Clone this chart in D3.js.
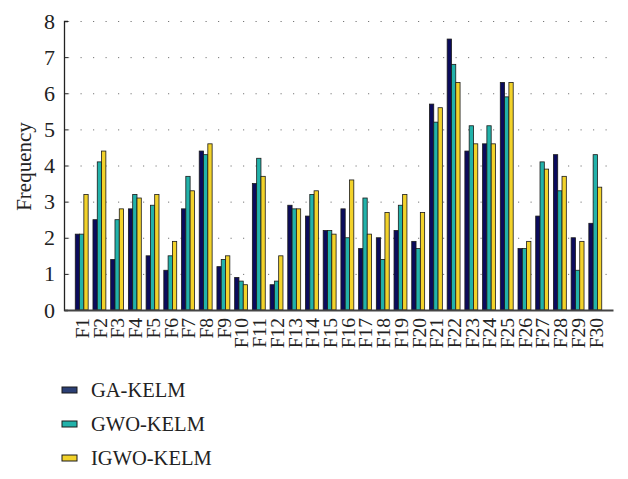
<!DOCTYPE html>
<html>
<head>
<meta charset="utf-8">
<script src="https://cdn.jsdelivr.net/npm/d3@7"></script>
<style>
  body { margin: 0; background: #fff; }
  text { font-family: "Liberation Serif", "DejaVu Serif", serif; fill: #222; }
</style>
</head>
<body>
<svg width="628" height="479"></svg>
<script>
// categories and series values
var categories = d3.range(1, 31).map(function (i) { return "F" + i; });
var seriesNames = ["GA-KELM", "GWO-KELM", "IGWO-KELM"];
var gaKelm = [2.1, 2.5, 1.4, 2.8, 1.5, 1.1, 2.8, 4.4, 1.2, 0.9, 3.5, 0.7, 2.9, 2.6, 2.2,
              2.8, 1.7, 2.0, 2.2, 1.9, 5.7, 7.5, 4.4, 4.6, 6.3, 1.7, 2.6, 4.3, 2.0, 2.4];
var gwoKelm = [2.1, 4.1, 2.5, 3.2, 2.9, 1.5, 3.7, 4.3, 1.4, 0.8, 4.2, 0.8, 2.8, 3.2, 2.2,
               2.0, 3.1, 1.4, 2.9, 1.7, 5.2, 6.8, 5.1, 5.1, 5.9, 1.7, 4.1, 3.3, 1.1, 4.3];
var igwoKelm = [3.2, 4.4, 2.8, 3.1, 3.2, 1.9, 3.3, 4.6, 1.5, 0.7, 3.7, 1.5, 2.8, 3.3, 2.1,
                3.6, 2.1, 2.7, 3.2, 2.7, 5.6, 6.3, 4.6, 4.6, 6.3, 1.9, 3.9, 3.7, 1.9, 3.4];
var yTicks = [0, 1, 2, 3, 4, 5, 6, 7, 8];

var series = [gaKelm, gwoKelm, igwoKelm];
var colors = ["#0b0b5c", "#22b2aa", "#f2d22a"];

var svg = d3.select("svg");
var mLeft = 64, mRight = 613, mTop = 21, mBottom = 310;

var x = d3.scaleLinear().domain([0, categories.length + 1]).range([mLeft, mRight]);
var y = d3.scaleLinear().domain([0, 8]).range([mBottom, mTop]);
var barW = 4.3;

// dotted grid
svg.append("g")
    .selectAll("line")
    .data(yTicks.slice(1))
    .enter()
    .append("line")
    .attr("x1", mLeft + 4)
    .attr("x2", mRight)
    .attr("y1", function (d) { return y(d) + 0.5; })
    .attr("y2", function (d) { return y(d) + 0.5; })
    .attr("stroke", "#777")
    .attr("stroke-width", 1)
    .attr("stroke-dasharray", "1.2,11.3");

// bars
series.forEach(function (vals, s) {
    svg.append("g")
        .selectAll("rect")
        .data(vals)
        .enter()
        .append("rect")
        .attr("x", function (d, i) { return x(i + 1) + (s - 1.5) * barW; })
        .attr("y", function (d) { return y(d); })
        .attr("width", barW)
        .attr("height", function (d) { return mBottom - y(d); })
        .attr("fill", colors[s])
        .attr("stroke", "#1a1a1a")
        .attr("stroke-width", 0.8);
});

// y axis, ticks pointing in
var yAxis = d3.axisLeft(y).tickValues(yTicks).tickSize(-4).tickPadding(9);
var gy = svg.append("g")
    .attr("transform", "translate(" + mLeft + ",0)")
    .call(yAxis);
gy.select(".domain").attr("stroke", "#222").attr("stroke-width", 1.3);
gy.selectAll(".tick line").attr("stroke", "#222");
gy.selectAll("text")
    .style("font-size", "22px")
    .style("font-family", "'Liberation Serif', serif")
    .attr("fill", "#222");

// x axis
var xAxis = d3.axisBottom(x)
    .tickValues(d3.range(1, categories.length + 1))
    .tickFormat(function (d) { return categories[d - 1]; })
    .tickSize(0);
var gx = svg.append("g")
    .attr("transform", "translate(0," + mBottom + ")")
    .call(xAxis);
gx.select(".domain").attr("stroke", "#444").attr("stroke-width", 2);
gx.selectAll("text")
    .attr("transform", "rotate(-90)")
    .attr("text-anchor", "end")
    .attr("x", -8)
    .attr("y", 0)
    .attr("dy", "0.35em")
    .style("font-size", "19.5px")
    .style("font-family", "'Liberation Serif', serif")
    .attr("fill", "#222");

// y label
svg.append("text")
    .attr("transform", "translate(31," + ((mTop + mBottom) / 2 + 1) + ") rotate(-90)")
    .attr("text-anchor", "middle")
    .style("font-size", "21px")
    .text("Frequency");

// legend
var legend = svg.append("g")
    .selectAll("g")
    .data(seriesNames)
    .enter()
    .append("g")
    .attr("transform", function (d, i) { return "translate(62," + (390 + i * 34) + ")"; });
legend.append("rect")
    .attr("x", 0)
    .attr("y", -3)
    .attr("width", 15)
    .attr("height", 6)
    .attr("fill", function (d, i) { return i == 0 ? "#2b3f74" : colors[i]; })
    .attr("stroke", "#1a1a1a")
    .attr("stroke-width", 1);
legend.append("text")
    .attr("x", 29)
    .attr("y", 0)
    .attr("dy", "0.35em")
    .style("font-size", "20.5px")
    .text(function (d) { return d; });
</script>
</body>
</html>
